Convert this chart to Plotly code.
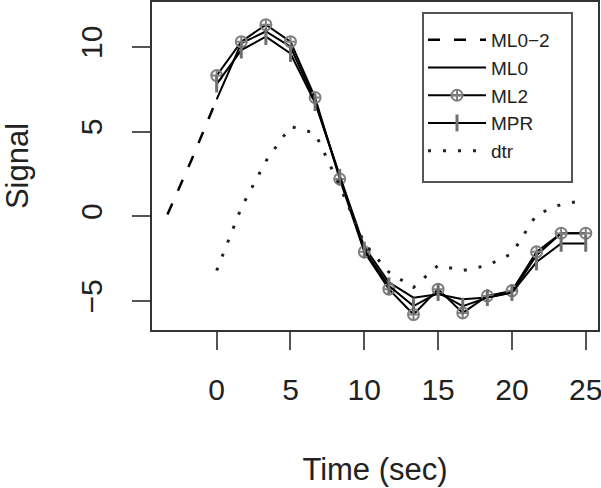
import plotly.graph_objects as go

# sample times (TR = 5/3 s)
t = [0, 1.667, 3.333, 5, 6.667, 8.333, 10, 11.667, 13.333, 15, 16.667, 18.333, 20, 21.667, 23.333, 25]
t_pre = [-3.333, -1.667, 0]

ml0_2 = [0.1, 3.4, 6.9]
ml0 = [6.9, 10.2, 10.9, 10.0, 6.8, 2.4, -1.8, -3.9, -4.8, -4.6, -4.9, -4.8, -4.5, -2.3, -1.0, -1.0]
ml2 = [8.3, 10.3, 11.3, 10.3, 7.0, 2.2, -2.1, -4.3, -5.8, -4.3, -5.7, -4.7, -4.4, -2.1, -1.0, -1.0]
mpr = [7.8, 9.8, 10.6, 9.6, 6.7, 2.3, -2.0, -4.1, -5.3, -4.5, -5.3, -4.8, -4.5, -2.7, -1.6, -1.6]
dtr = [-3.2, 0.5, 3.25, 5.3, 4.9, 1.8, -1.6, -3.3, -4.2, -2.9, -3.2, -2.9, -2.2, 0.1, 0.7, 0.95]

x_ticks = [0, 5, 10, 15, 20, 25]
y_ticks = [-5, 0, 5, 10]

FONT = "Liberation Sans, Arial, Helvetica, sans-serif"
INK = "#222222"

W, H = 601, 488
ML, MR, MT, MB = 152, 3, 2, 158
PW, PH = W - ML - MR, H - MT - MB


def px_x(p):
    return (p - ML) / PW


def px_y(p):
    return (H - MB - p) / PH


fig = go.Figure()
fig.add_trace(go.Scatter(x=t_pre, y=ml0_2, mode="lines", name="ML0\u22122",
                         line=dict(color="black", width=2.5, dash="12px,14px")))
fig.add_trace(go.Scatter(x=t, y=ml0, mode="lines", name="ML0",
                         line=dict(color="black", width=2)))
fig.add_trace(go.Scatter(x=t, y=ml2, mode="lines+markers", name="ML2",
                         line=dict(color="black", width=2),
                         marker=dict(symbol="circle-cross-open", size=11,
                                     color="#808080", line=dict(width=2, color="#808080"))))
fig.add_trace(go.Scatter(x=t, y=mpr, mode="lines+markers", name="MPR",
                         line=dict(color="black", width=2),
                         marker=dict(symbol="line-ns-open", size=12,
                                     color="#707070", line=dict(width=3, color="#707070"))))
fig.add_trace(go.Scatter(x=t, y=dtr, mode="lines", name="dtr",
                         line=dict(color="#222222", width=3, dash="3px,12px")))

axis_common = dict(showgrid=False, zeroline=False, showline=True, mirror=True,
                   linecolor="#333333", linewidth=1.5, ticks="outside", ticklen=18,
                   tickwidth=1.5, tickcolor="#555555", automargin=False,
                   tickfont=dict(family=FONT, size=30, color=INK))

fig.update_layout(
    width=W, height=H,
    margin=dict(l=ML, r=MR, t=MT, b=MB),
    paper_bgcolor="white", plot_bgcolor="white",
    font=dict(family=FONT, color=INK),
    xaxis=dict(range=[-4.38, 25.83], tickvals=x_ticks, ticklabelstandoff=14,
               ticklabeloverflow="allow",
               title=dict(text="Time (sec)", font=dict(family=FONT, size=31, color=INK), standoff=54),
               **axis_common),
    yaxis=dict(range=[-6.71, 12.64], tickvals=y_ticks, tickangle=-90, ticklabelstandoff=18,
               title=dict(text="Signal", font=dict(family=FONT, size=31, color=INK), standoff=58),
               **axis_common),
    legend=dict(x=px_x(423), y=px_y(21), xanchor="left", yanchor="top",
                bgcolor="rgba(0,0,0,0)", borderwidth=0,
                font=dict(family=FONT, size=19, color=INK), itemwidth=58,
                tracegroupgap=0),
    shapes=[dict(type="rect", xref="paper", yref="paper",
                 x0=px_x(423), x1=px_x(572), y0=px_y(182), y1=px_y(13),
                 line=dict(color="#555555", width=2), fillcolor="white", layer="above")],
    showlegend=True,
)

fig.write_html("out.html", config={"displayModeBar": False},
               post_script="document.body.style.margin='0';document.body.style.overflow='hidden';")
